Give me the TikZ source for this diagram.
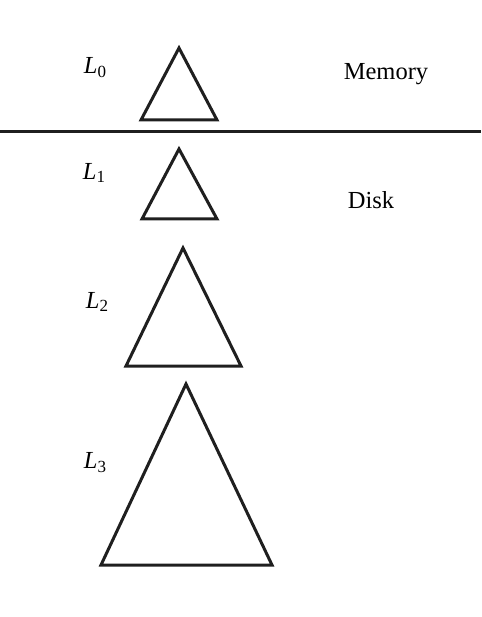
\documentclass[tikz,border=0pt]{standalone}
\usepackage{fontspec}
\setmainfont{Liberation Serif}
\newcommand{\lev}[1]{\textit{L}\raisebox{-0.35ex}{\fontsize{17}{18}\selectfont #1}}
\begin{document}
\begin{tikzpicture}[x=1pt,y=-1pt,
  tri/.style={draw=black!88,line width=3pt,line join=miter},
  lbl/.style={font=\fontsize{24.5}{27}\selectfont,inner sep=0pt}]
\useasboundingbox (0,0) rectangle (481,617);
\coordinate (lineL) at (0,132);
\coordinate (lineR) at (481,132);
\draw[draw=black!88,line width=3pt] (lineL) -- (lineR);
% triangles
\draw[tri] (179,48) -- (217,120) -- (141,120) -- cycle;
\draw[tri] (179,149) -- (217,219) -- (142,219) -- cycle;
\draw[tri] (183,248) -- (241,366) -- (126,366) -- cycle;
\draw[tri] (186,384) -- (272,565) -- (101,565) -- cycle;
% labels
\node[lbl] (l0) at (95,68) {\lev{0}};
\node[lbl] (l1) at (94,173) {\lev{1}};
\node[lbl] (l2) at (97,302) {\lev{2}};
\node[lbl] (l3) at (95,463) {\lev{3}};
\node[lbl] (mem) at (386,74) {Memory};
\node[lbl] (disk) at (371,200) {Disk};
\end{tikzpicture}
\end{document}
